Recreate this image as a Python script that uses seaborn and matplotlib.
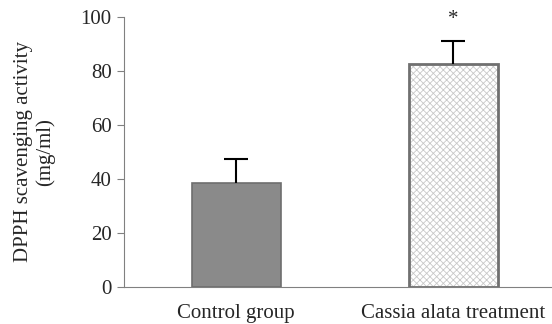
import matplotlib
matplotlib.use('Agg')
import matplotlib.pyplot as plt
import seaborn as sns
import pandas as pd

# Data
groups = ['Control group', 'Cassia alata treatment']
activity = [38.5, 82.5]
errors = [9.0, 8.5]
marks = ['', '*']

df = pd.DataFrame({'group': groups, 'activity': activity})

sns.set_style('white')
plt.rcParams['font.family'] = ['Liberation Serif', 'DejaVu Serif']
plt.rcParams['hatch.linewidth'] = 0.6

fig, ax = plt.subplots(figsize=(5.52, 3.24), dpi=100)
sns.barplot(data=df, x='group', y='activity', ax=ax, width=0.41,
            color='#888888', saturation=1)

# style the bars
bars = ax.patches
bars[0].set_facecolor('#8a8a8a')
bars[0].set_edgecolor('#6e6e6e')
bars[0].set_linewidth(1.2)
bars[1].set_facecolor('white')
bars[1].set_hatch('xxxxx')
bars[1].set_edgecolor('#c8c8c8')
bars[1].set_linewidth(0)
for b in bars[1:]:
    ax.add_patch(plt.Rectangle((b.get_x(), 0), b.get_width(), b.get_height(),
                               fill=False, edgecolor='#707070', linewidth=2, zorder=3))

# upward-only error bars (no lower cap)
for i, (v, e) in enumerate(zip(activity, errors)):
    ax.vlines(i, v, v + e, color='black', linewidth=1.5, zorder=4)
    ax.hlines(v + e, i - 0.055, i + 0.055, color='black', linewidth=1.5, zorder=4)

for i, (v, e, m) in enumerate(zip(activity, errors, marks)):
    if m:
        ax.text(i, v + e + 4.5, m, ha='center', va='bottom', fontsize=15, clip_on=False)

ax.set_ylim(0, 100)
ax.set_xlim(-0.516, 1.456)
ax.set_yticks(range(0, 101, 20))
ax.set_xlabel('')
ax.set_ylabel('DPPH scavenging activity\n(mg/ml)', fontsize=15, labelpad=18)
ax.tick_params(axis='y', labelsize=15, left=True, length=5, color='#808080', pad=4)
ax.tick_params(axis='x', labelsize=15, bottom=False, pad=9)
sns.despine(ax=ax, top=True, right=True)
ax.spines['left'].set_color('#808080')
ax.spines['bottom'].set_color('#808080')

fig.subplots_adjust(left=0.225, right=1.0, bottom=0.115, top=0.948)
fig.savefig('out.png', dpi=100)
